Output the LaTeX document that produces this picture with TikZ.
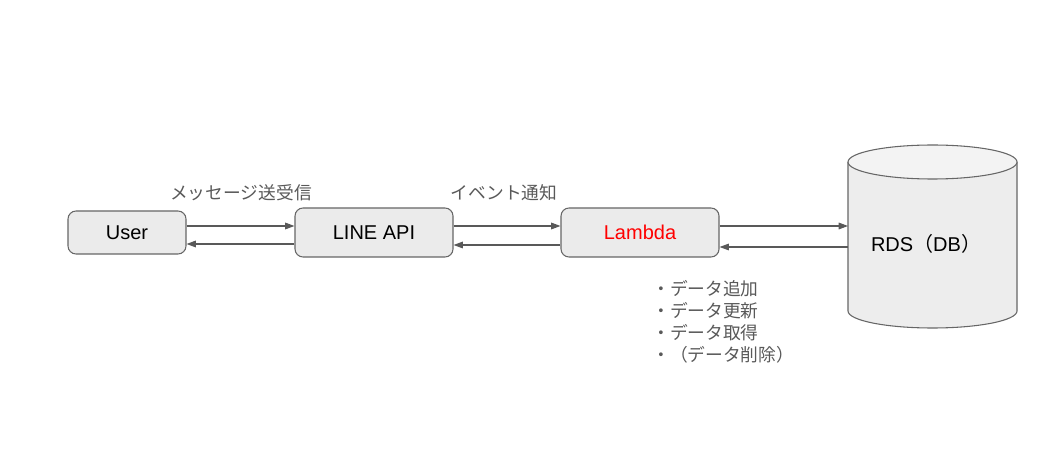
\documentclass[tikz,border=0pt]{standalone}
\usepackage{fontspec}
\setmainfont{Liberation Sans}
\newfontfamily\cjk{Noto Sans CJK JP}
\usetikzlibrary{arrows.meta}
\definecolor{boxfill}{HTML}{EBEBEB}
\definecolor{boxline}{HTML}{666666}
\definecolor{arrcol}{HTML}{595959}
\definecolor{labcol}{HTML}{595959}
\definecolor{cylbody}{HTML}{EDEDED}
\definecolor{cyltop}{HTML}{F3F3F3}
\definecolor{lamred}{HTML}{FF0000}
\tikzset{
  box/.style={draw=boxline, fill=boxfill, rounded corners=6pt, line width=0.8pt,
    font=\fontsize{15}{18}\selectfont, inner sep=0pt},
  arr/.style={draw=arrcol, line width=0.8pt, -{Triangle[length=7pt,width=5pt]}},
  lab/.style={text=labcol, font=\cjk\fontsize{13.3}{16.5}\selectfont, inner sep=0pt},
}
\begin{document}
\begin{tikzpicture}[x=0.75pt,y=0.75pt]
\useasboundingbox (0,0) rectangle (1055,-466);
% nodes
\node[box, minimum width=88.5pt, minimum height=32.25pt] (user) at (127,-232.5) {User};
\node[box, minimum width=118.5pt, minimum height=36.75pt] (api) at (374,-232.5) {LINE API};
\node[box, minimum width=118.5pt, minimum height=36.75pt, text=lamred] (lam) at (640,-232.5) {Lambda};
% cylinder
\fill[cylbody] (848,-162) -- (848,-311) arc[start angle=180,end angle=360,x radius=63.375pt,y radius=12.75pt] -- (1017,-162) -- cycle;
\draw[boxline, line width=0.8pt] (848,-162) -- (848,-311) arc[start angle=180,end angle=360,x radius=63.375pt,y radius=12.75pt] -- (1017,-162);
\draw[boxline, fill=cyltop, line width=0.8pt] (932.5,-162) ellipse[x radius=63.375pt, y radius=12.75pt];
\node[font=\fontsize{15}{18}\selectfont, inner sep=0pt] (rds) at (926,-244) {RDS{\cjk（}DB{\cjk）}};
\coordinate (dbl) at (848,-236.5);
% levels
\coordinate (ya) at (0,-226);
\coordinate (yb) at (0,-244);
\coordinate (yc) at (0,-245);
\coordinate (yd) at (0,-247);
% connectors
\draw[arr] (user.east |- ya) -- (api.west |- ya);
\draw[arr] (api.west |- yb) -- (user.east |- yb);
\draw[arr] (api.east |- ya) -- (lam.west |- ya);
\draw[arr] (lam.west |- yc) -- (api.east |- yc);
\draw[arr] (lam.east |- ya) -- (dbl |- ya);
\draw[arr] (dbl |- yd) -- (lam.east |- yd);
% labels
\node[lab] (l1) at (241,-193) {メッセージ送受信};
\node[lab] (l2) at (504,-193) {イベント通知};
\node[lab, align=left, anchor=west] (l3) at (652,-322) {・データ追加\\・データ更新\\・データ取得\\・（データ削除）};
\end{tikzpicture}
\end{document}
